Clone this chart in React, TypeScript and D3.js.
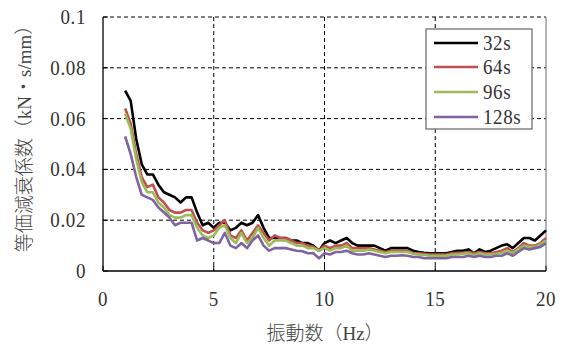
import React from "react";
import * as d3 from "d3";

const FREQ_START = 1;
const FREQ_STEP = 0.25;

const seriesNames = ["32s", "64s", "96s", "128s"];
const seriesColors = ["#000000", "#c0504d", "#9bbb59", "#8064a2"];

const s32 = [
  0.071, 0.067, 0.052, 0.042, 0.038, 0.038, 0.034, 0.031, 0.030, 0.029, 0.027, 0.029, 0.029, 0.023, 0.018, 0.019,
  0.017, 0.019, 0.019, 0.016, 0.017, 0.019, 0.018, 0.019, 0.022, 0.017, 0.013, 0.013, 0.013, 0.013, 0.012, 0.012,
  0.011, 0.011, 0.010, 0.008, 0.011, 0.012, 0.011, 0.012, 0.013, 0.011, 0.010, 0.010, 0.010, 0.010, 0.009, 0.008,
  0.009, 0.009, 0.009, 0.009, 0.008, 0.0075, 0.0072, 0.007, 0.007, 0.007, 0.007, 0.0075, 0.008, 0.008, 0.0085, 0.007,
  0.0085, 0.0075, 0.008, 0.009, 0.010, 0.0105, 0.009, 0.011, 0.013, 0.013, 0.012, 0.014, 0.016,
];
const s64 = [
  0.064, 0.058, 0.046, 0.037, 0.033, 0.034, 0.029, 0.027, 0.024, 0.023, 0.023, 0.024, 0.024, 0.019, 0.016, 0.015,
  0.016, 0.018, 0.020, 0.014, 0.013, 0.016, 0.012, 0.015, 0.018, 0.015, 0.012, 0.014, 0.013, 0.013, 0.012, 0.011,
  0.011, 0.010, 0.0095, 0.008, 0.010, 0.009, 0.010, 0.010, 0.011, 0.009, 0.009, 0.009, 0.009, 0.0085, 0.008, 0.0075,
  0.008, 0.008, 0.008, 0.008, 0.007, 0.007, 0.0068, 0.0065, 0.0065, 0.0065, 0.0065, 0.007, 0.0072, 0.0072, 0.0075, 0.007,
  0.0075, 0.007, 0.007, 0.0075, 0.008, 0.009, 0.0075, 0.009, 0.011, 0.010, 0.010, 0.011, 0.013,
];
const s96 = [
  0.062, 0.056, 0.044, 0.035, 0.031, 0.031, 0.027, 0.025, 0.022, 0.021, 0.021, 0.022, 0.022, 0.017, 0.014, 0.013,
  0.014, 0.017, 0.018, 0.013, 0.011, 0.015, 0.011, 0.013, 0.017, 0.013, 0.010, 0.012, 0.012, 0.012, 0.011, 0.010,
  0.010, 0.009, 0.009, 0.008, 0.009, 0.008, 0.009, 0.009, 0.010, 0.008, 0.008, 0.008, 0.0085, 0.008, 0.0075, 0.007,
  0.0075, 0.0075, 0.0075, 0.0075, 0.0068, 0.0065, 0.0063, 0.006, 0.006, 0.006, 0.006, 0.0065, 0.0065, 0.0068, 0.007, 0.0062,
  0.007, 0.0065, 0.0065, 0.0068, 0.0072, 0.008, 0.007, 0.0085, 0.010, 0.0095, 0.0095, 0.0105, 0.012,
];
const s128 = [
  0.053, 0.046, 0.037, 0.030, 0.029, 0.028, 0.025, 0.023, 0.021, 0.018, 0.019, 0.019, 0.019, 0.012, 0.013, 0.012,
  0.011, 0.011, 0.015, 0.010, 0.009, 0.011, 0.009, 0.012, 0.014, 0.010, 0.008, 0.009, 0.009, 0.009, 0.0085, 0.008,
  0.0078, 0.007, 0.007, 0.005, 0.007, 0.0065, 0.0075, 0.0075, 0.008, 0.007, 0.0065, 0.0065, 0.007, 0.0065, 0.006, 0.0055,
  0.006, 0.006, 0.0062, 0.006, 0.0055, 0.0055, 0.005, 0.005, 0.005, 0.005, 0.005, 0.0055, 0.0055, 0.0055, 0.006, 0.0055,
  0.006, 0.0055, 0.0055, 0.006, 0.006, 0.007, 0.006, 0.0075, 0.009, 0.0085, 0.009, 0.0095, 0.011,
];
const seriesValues = [s32, s64, s96, s128];

const xTicks = [0, 5, 10, 15, 20];
const yTicks = [0, 0.02, 0.04, 0.06, 0.08, 0.1];
const yTickLabels = ["0", "0.02", "0.04", "0.06", "0.08", "0.1"];
const xTitle = "振動数（Hz）";
const yTitle = "等価減衰係数（kN・s/mm）";

const W = 564;
const H = 350;
const L = 103;
const R = 546;
const T = 17;
const B = 271;

const NUM_FONT = "'Liberation Serif', 'DejaVu Serif', serif";
const CJK_FONT = "'Liberation Serif', 'Noto Sans CJK JP', sans-serif";

function NumText({ x, y, anchor, children }: { x: number; y: number; anchor: string; children: any }) {
  return (
    <g transform={`translate(${x},${y}) scale(1,1.15)`}>
      <text x={0} y={0} textAnchor={anchor} fontFamily={NUM_FONT} fontSize={19} letterSpacing={0.6} fill="#333">
        {children}
      </text>
    </g>
  );
}

export default function App() {
  const x = d3.scaleLinear().domain([0, 20]).range([L, R]);
  const y = d3.scaleLinear().domain([0, 0.1]).range([B, T]);
  const line = d3
    .line<number>()
    .x((_, i) => x(FREQ_START + i * FREQ_STEP))
    .y((d) => y(d));

  const legX = 426;
  const legY = 29;
  const legW = 106;
  const legH = 100;
  const legRows = [43, 67, 92, 117];

  return (
    <svg
      width={W}
      height={H}
      style={{ position: "absolute", left: 0, top: 0, background: "#fff" }}
    >
      <rect x={0} y={0} width={W} height={H} fill="#fff" />
      {/* gridlines */}
      {yTicks
        .filter((t) => t > 0)
        .map((t) => (
          <line
            key={"gy" + t}
            x1={L}
            x2={R}
            y1={y(t)}
            y2={y(t)}
            stroke="#000"
            strokeWidth={1}
            strokeDasharray="4,3"
          />
        ))}
      {xTicks
        .filter((t) => t > 0 && t < 20)
        .map((t) => (
          <line
            key={"gx" + t}
            x1={x(t)}
            x2={x(t)}
            y1={T}
            y2={B}
            stroke="#000"
            strokeWidth={1}
            strokeDasharray="4,3"
          />
        ))}
      {/* right border */}
      <line x1={R} x2={R} y1={T} y2={B} stroke="#808080" strokeWidth={1.2} />
      {/* series */}
      {seriesValues.map((vals, si) => (
        <path
          key={seriesNames[si]}
          d={line(vals) || ""}
          fill="none"
          stroke={seriesColors[si]}
          strokeWidth={2.6}
          strokeLinejoin="round"
        />
      ))}
      {/* axes */}
      <line x1={L} x2={L} y1={T} y2={B} stroke="#000" strokeWidth={1.3} />
      <line x1={L} x2={R} y1={B} y2={B} stroke="#000" strokeWidth={1.3} />
      {yTicks.map((t) => (
        <line key={"ty" + t} x1={L} x2={L + 5} y1={y(t)} y2={y(t)} stroke="#000" strokeWidth={1} />
      ))}
      {xTicks.map((t) => (
        <line key={"tx" + t} x1={x(t)} x2={x(t)} y1={B} y2={B - 5} stroke="#000" strokeWidth={1} />
      ))}
      {/* tick labels */}
      {yTicks.map((t, i) => (
        <NumText key={"ly" + t} x={L - 17} y={y(t) + 7} anchor="end">
          {yTickLabels[i]}
        </NumText>
      ))}
      {xTicks.map((t) => (
        <NumText key={"lx" + t} x={x(t)} y={B + 35} anchor="middle">
          {String(t)}
        </NumText>
      ))}
      {/* titles */}
      <text x={325} y={340} textAnchor="middle" fontFamily={CJK_FONT} fontSize={19} fontWeight={300} fill="#444">
        {xTitle}
      </text>
      <text
        transform={`translate(31,134) rotate(-90)`}
        textAnchor="middle"
        fontFamily={CJK_FONT}
        fontSize={19}
        fontWeight={300}
        fill="#444"
      >
        {yTitle}
      </text>
      {/* legend */}
      <rect x={legX} y={legY} width={legW} height={legH} fill="#fff" stroke="#707070" strokeWidth={1.3} />
      {seriesNames.map((n, i) => (
        <g key={"leg" + n}>
          <line
            x1={legX + 8}
            x2={legX + 52}
            y1={legRows[i]}
            y2={legRows[i]}
            stroke={seriesColors[i]}
            strokeWidth={2.6}
          />
          <NumText x={legX + 57} y={legRows[i] + 7} anchor="start">
            {n}
          </NumText>
        </g>
      ))}
    </svg>
  );
}
